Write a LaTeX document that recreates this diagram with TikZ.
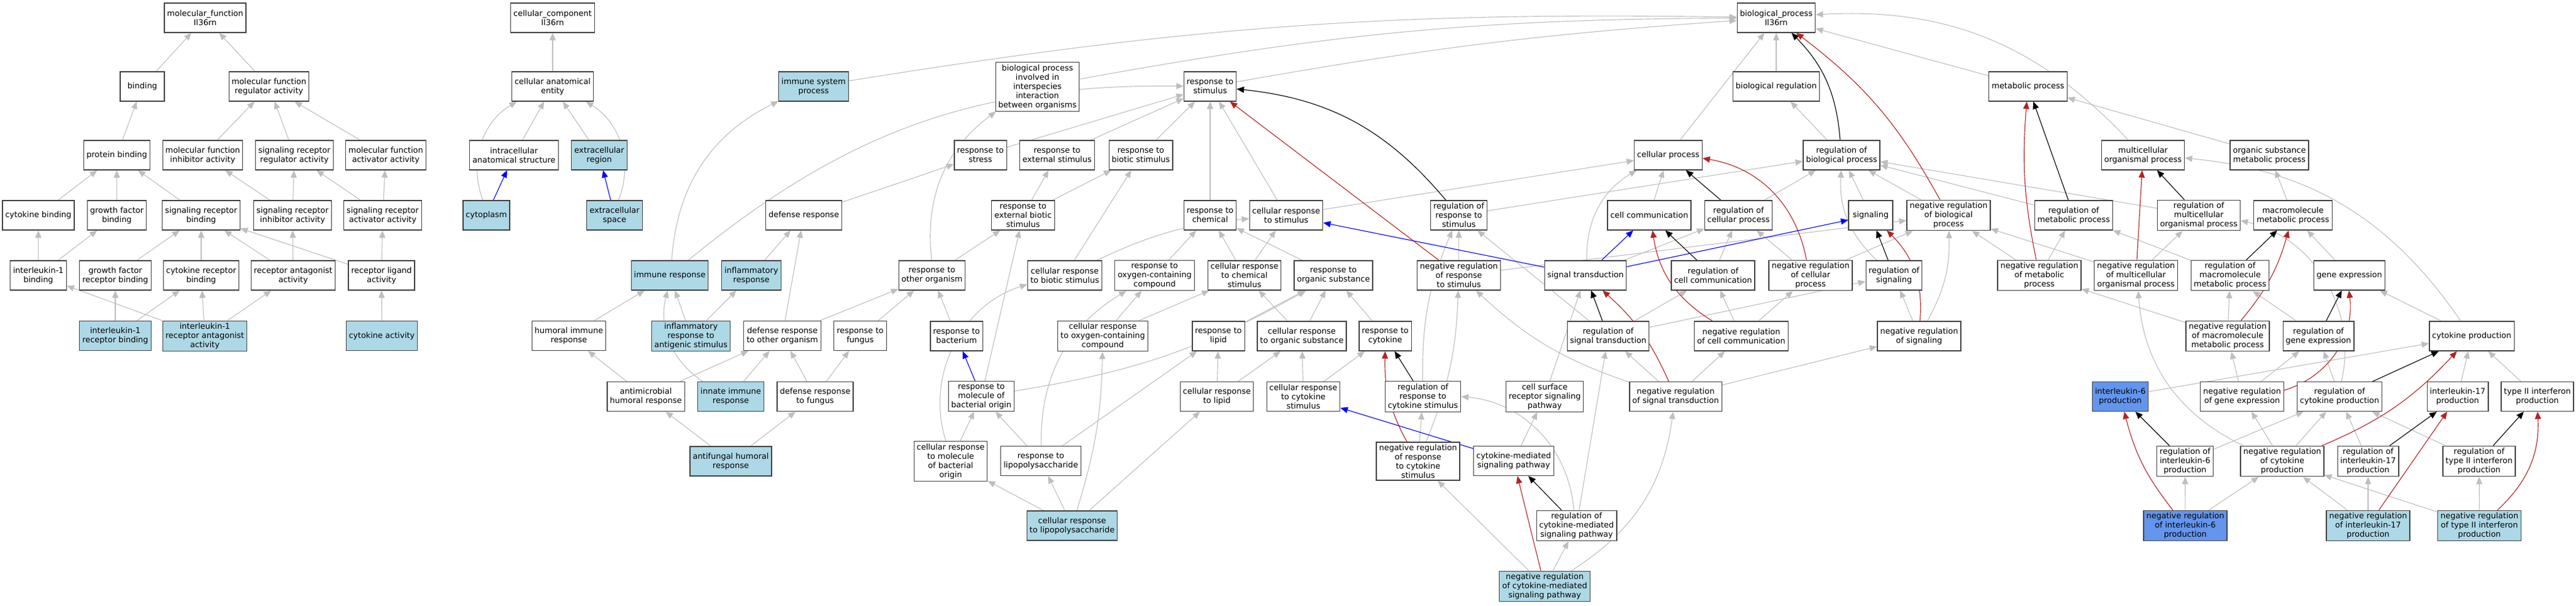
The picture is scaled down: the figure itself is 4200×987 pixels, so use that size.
\documentclass[tikz,border=0pt]{standalone}
\usepackage{fontspec}
\setmainfont{DejaVu Sans}
\usetikzlibrary{arrows.meta}
\definecolor{isagray}{RGB}{190,190,190}
\definecolor{hitblue}{RGB}{173,216,230}
\definecolor{keyblue}{RGB}{100,149,237}
\definecolor{negred}{RGB}{178,34,34}
\pgfdeclarelayer{back}
\pgfsetlayers{back,main}
\begin{document}
\begin{tikzpicture}[x=0.25pt, y=0.25pt,
    term/.style={shape=rectangle, draw=black!75, line width=0.3pt, fill=white, align=center,
                 minimum width=18pt, minimum height=12pt, inner xsep=1.125pt, inner ysep=0.875pt,
                 font=\fontsize{3.25}{3.75}\selectfont},
    hit/.style={term, fill=hitblue},
    key/.style={term, fill=keyblue},
    isa/.style={color=isagray, line width=0.28pt, -{Triangle[length=3pt, width=2.5pt]}},
    reg/.style={isa, color=black},
    neg/.style={isa, color=negred},
    part/.style={isa, color=blue}]
    \useasboundingbox (0,0) rectangle (4200,-987);
    % molecular function
    \node[term] (MF) at (334.5,-29) {molecular\_function\\Il36rn};
    \node[term] (BND) at (232,-141) {binding};
    \node[term] (MFR) at (438.5,-141) {molecular function\\regulator activity};
    \node[term] (PB) at (190.5,-253) {protein binding};
    \node[term] (MFI) at (330.5,-253) {molecular function\\inhibitor activity};
    \node[term] (SRR) at (480,-253) {signaling receptor\\regulator activity};
    \node[term] (MFA) at (629,-253) {molecular function\\activator activity};
    \node[term] (CB) at (62.5,-351) {cytokine binding};
    \node[term] (GFB) at (190.5,-351) {growth factor\\binding};
    \node[term] (SRB) at (328,-351) {signaling receptor\\binding};
    \node[term] (SRI) at (477,-351) {signaling receptor\\inhibitor activity};
    \node[term] (SRA) at (624,-351) {signaling receptor\\activator activity};
    \node[term] (ILB) at (62.5,-449) {interleukin-1\\binding};
    \node[term] (GFRB) at (188,-449) {growth factor\\receptor binding};
    \node[term] (CRB) at (328,-449) {cytokine receptor\\binding};
    \node[term] (RAA) at (478,-449) {receptor antagonist\\activity};
    \node[term] (RLA) at (622,-449) {receptor ligand\\activity};
    \node[hit] (ILRB) at (188,-547.5) {interleukin-1\\receptor binding};
    \node[hit] (ILRA) at (334,-548) {interleukin-1\\receptor antagonist\\activity};
    \node[hit] (CA) at (622.5,-547.5) {cytokine activity};
    % cellular component
    \node[term] (CC) at (901,-29) {cellular\_component\\Il36rn};
    \node[term] (CAE) at (901,-141) {cellular anatomical\\entity};
    \node[term] (IAS) at (838,-253) {intracellular\\anatomical structure};
    \node[hit] (ER) at (977,-253) {extracellular\\region};
    \node[hit] (CYT) at (793,-351) {cytoplasm};
    \node[hit] (ES) at (1002,-351) {extracellular\\space};
    % immune and defense
    \node[hit] (ISP) at (1326.5,-141) {immune system\\process};
    \node[term] (DR) at (1310.5,-351) {defense response};
    \node[hit] (IR) at (1092,-449) {immune response};
    \node[hit] (INF) at (1225,-449) {inflammatory\\response};
    \node[term] (HIR) at (927.5,-547.5) {humoral immune\\response};
    \node[hit] (IRAS) at (1126.5,-548) {inflammatory\\response to\\antigenic stimulus};
    \node[term] (DRO) at (1275.5,-547.5) {defense response\\to other organism};
    \node[term] (RF) at (1402.5,-547.5) {response to\\fungus};
    \node[term] (AHR) at (1053,-646.5) {antimicrobial\\humoral response};
    \node[hit] (IIR) at (1191.5,-646.5) {innate immune\\response};
    \node[term] (DRF) at (1329,-646.5) {defense response\\to fungus};
    \node[hit] (AFH) at (1191.5,-752) {antifungal humoral\\response};
    % responses
    \node[term] (BPI) at (1691.5,-141.5) {biological process\\involved in\\interspecies\\interaction\\between organisms};
    \node[term] (RS) at (1973,-141) {response to\\stimulus};
    \node[term] (RSTR) at (1598.5,-253) {response to\\stress};
    \node[term] (REX) at (1723.5,-253) {response to\\external stimulus};
    \node[term] (RBI) at (1860,-253) {response to\\biotic stimulus};
    \node[term] (REB) at (1668,-351) {response to\\external biotic\\stimulus};
    \node[term] (RCH) at (1973,-351) {response to\\chemical};
    \node[term] (CRS) at (2097,-351) {cellular response\\to stimulus};
    \node[term] (RO) at (1519.5,-449) {response to\\other organism};
    \node[term] (CRBS) at (1736,-449) {cellular response\\to biotic stimulus};
    \node[term] (ROC) at (1882.5,-449) {response to\\oxygen-containing\\compound};
    \node[term] (CRC) at (2029,-449) {cellular response\\to chemical\\stimulus};
    \node[term] (RB) at (1559.5,-548) {response to\\bacterium};
    \node[term] (CROC) at (1798,-548) {cellular response\\to oxygen-containing\\compound};
    \node[term] (RL) at (1986.5,-548) {response to\\lipid};
    \node[term] (CROS) at (2122.5,-548) {cellular response\\to organic substance};
    \node[term] (RMB) at (1600,-646) {response to\\molecule of\\bacterial origin};
    \node[term] (CRL) at (1984,-646.5) {cellular response\\to lipid};
    \node[term] (CRCS) at (2125,-646.5) {cellular response\\to cytokine\\stimulus};
    \node[term] (CRMB) at (1550,-752) {cellular response\\to molecule\\of bacterial\\origin};
    \node[term] (RLPS) at (1697,-751.5) {response to\\lipopolysaccharide};
    \node[hit] (CRLPS) at (1748,-857) {cellular response\\to lipopolysaccharide};
    % signaling and regulation
    \node[term] (CP) at (2720,-253) {cellular process};
    \node[term] (RRS) at (2378.5,-351) {regulation of\\response to\\stimulus};
    \node[term] (CCOM) at (2689,-351) {cell communication};
    \node[term] (RCP) at (2834.5,-351) {regulation of\\cellular process};
    \node[term] (ROS) at (2174,-449) {response to\\organic substance};
    \node[term] (NRRS) at (2378.5,-449) {negative regulation\\of response\\to stimulus};
    \node[term] (ST) at (2585,-449) {signal transduction};
    \node[term] (RCC) at (2793,-449) {regulation of\\cell communication};
    \node[term] (RC) at (2258.5,-548) {response to\\cytokine};
    \node[term] (RSTD) at (2622,-548) {regulation of\\signal transduction};
    \node[term] (NRCC) at (2839,-548) {negative regulation\\of cell communication};
    \node[term] (RRC) at (2320,-646.5) {regulation of\\response to\\cytokine stimulus};
    \node[term] (CSR) at (2518.5,-646.5) {cell surface\\receptor signaling\\pathway};
    \node[term] (NRST) at (2732,-646.5) {negative regulation\\of signal transduction};
    \node[term] (NRRC) at (2312,-752) {negative regulation\\of response\\to cytokine\\stimulus};
    \node[term] (CMS) at (2468,-751.5) {cytokine-mediated\\signaling pathway};
    \node[term] (RCMS) at (2570.5,-857) {regulation of\\cytokine-mediated\\signaling pathway};
    \node[hit] (NRCMS) at (2518.5,-956) {negative regulation\\of cytokine-mediated\\signaling pathway};
    % biological process root side
    \node[term] (BP) at (2896,-29) {biological\_process\\Il36rn};
    \node[term] (BR) at (2896,-141) {biological regulation};
    \node[term] (MP) at (3306.5,-141) {metabolic process};
    \node[term] (RBP) at (3002.5,-253) {regulation of\\biological process};
    \node[term] (MOP) at (3494,-253) {multicellular\\organismal process};
    \node[term] (SIG) at (3050,-351) {signaling};
    \node[term] (NRBP) at (3177,-351) {negative regulation\\of biological\\process};
    \node[term] (RMP) at (3381,-351) {regulation of\\metabolic process};
    \node[term] (NRCP) at (2952,-449) {negative regulation\\of cellular\\process};
    \node[term] (RSIG) at (3088,-449) {regulation of\\signaling};
    \node[term] (NRMP) at (3325,-449) {negative regulation\\of metabolic\\process};
    \node[term] (NRMO) at (3482.5,-449) {negative regulation\\of multicellular\\organismal process};
    \node[term] (NRSIG) at (3129,-548) {negative regulation\\of signaling};
    \node[key] (IL6) at (3457,-646.5) {interleukin-6\\production};
    % metabolism and cytokines
    \node[term] (OSMP) at (3700,-253) {organic substance\\metabolic process};
    \node[term] (RMO) at (3585,-351) {regulation of\\multicellular\\organismal process};
    \node[term] (MMP) at (3738.5,-351) {macromolecule\\metabolic process};
    \node[term] (RMMP) at (3636,-449) {regulation of\\macromolecule\\metabolic process};
    \node[term] (GE) at (3830.5,-449) {gene expression};
    \node[term] (NRMM) at (3632,-548) {negative regulation\\of macromolecule\\metabolic process};
    \node[term] (RGE) at (3780,-548) {regulation of\\gene expression};
    \node[term] (CYP) at (4030,-548) {cytokine production};
    \node[term] (NRGE) at (3655.5,-646.5) {negative regulation\\of gene expression};
    \node[term] (RCYP) at (3814.5,-646.5) {regulation of\\cytokine production};
    \node[term] (IL17) at (4007,-646.5) {interleukin-17\\production};
    \node[term] (IFN) at (4137,-646.5) {type II interferon\\production};
    \node[term] (RIL6) at (3562.5,-752) {regulation of\\interleukin-6\\production};
    \node[term] (NRCYP) at (3721,-752) {negative regulation\\of cytokine\\production};
    \node[term] (RIL17) at (3861,-752) {regulation of\\interleukin-17\\production};
    \node[term] (RIFN) at (4042,-752) {regulation of\\type II interferon\\production};
    \node[key] (NRIL6) at (3563,-857) {negative regulation\\of interleukin-6\\production};
    \node[hit] (NRIL17) at (3861,-857) {negative regulation\\of interleukin-17\\production};
    \node[hit] (NRIFN) at (4042.5,-857) {negative regulation\\of type II interferon\\production};

    \begin{pgfonlayer}{back}
    % is_a
    \path[isa] (BND) edge (MF) (MFR) edge (MF) (PB) edge (BND) (MFI) edge (MFR) (SRR) edge (MFR) (MFA) edge (MFR)
        (CB) edge (PB) (GFB) edge (PB) (SRB) edge (PB) (SRI) edge (MFI) (SRI) edge (SRR) (SRA) edge (SRR) (SRA) edge (MFA)
        (ILB) edge (CB) (ILB) edge (GFB) (GFRB) edge (SRB) (CRB) edge (SRB) (RAA) edge (SRB) (RLA) edge (SRB)
        (RAA) edge (SRI) (RLA) edge (SRA)
        (ILRB) edge (GFRB) (ILRB) edge (CRB) (ILRA) edge (ILB) (ILRA) edge (CRB) (ILRA) edge (RAA) (CA) edge (RLA);
    \path[isa] (CAE) edge (CC) (IAS) edge (CAE) (ER) edge (CAE) (CYT) edge[bend left=40] (CAE) (ES) edge[bend right=40] (CAE);
    \path[isa] (IR) edge[bend left=30] (ISP) (IR) edge[bend left=20] (RS) (ISP) edge[bend left=5] (BP)
        (DR) edge (RSTR) (INF) edge (DR) (DRO) edge (DR) (HIR) edge (IR) (IIR) edge[bend left=35] (IR)
        (IRAS) edge (IR) (IRAS) edge (INF)
        (AHR) edge (HIR) (AHR) edge (DRO) (IIR) edge (DRO) (DRF) edge (DRO) (DRF) edge (RF) (AFH) edge (AHR) (AFH) edge (DRF)
        (DRO) edge (RO) (RF) edge (RO) (RB) edge (RO);
    \path[isa] (RS) edge[bend left=3] (BP) (BPI) edge[bend left=5] (BP) (RO) edge[bend left=30] (BPI)
        (RSTR) edge (RS) (REX) edge (RS) (RBI) edge (RS) (RCH) edge (RS) (CRS) edge (RS)
        (REB) edge (REX) (REB) edge (RBI) (RO) edge (REB) (CRBS) edge (RBI) (CRBS) edge[bend left=10] (CRS) (RMB) edge (REB)
        (ROC) edge (RCH) (CRC) edge (RCH) (CRC) edge (CRS) (ROS) edge (RCH) (CRS) edge (CP)
        (CRMB) edge[bend left=45] (CRBS) (CRMB) edge (RMB) (RLPS) edge (RMB) (RLPS) edge[bend left=30] (ROC) (RLPS) edge (RL)
        (CRLPS) edge (CRMB) (CRLPS) edge (RLPS) (CRLPS) edge[bend right=8] (CROC) (CRLPS) edge (CRL)
        (CROC) edge (ROC) (CROC) edge (CRC) (CRL) edge (RL) (CRL) edge (CROS) (RL) edge (ROS)
        (CROS) edge (CRC) (CROS) edge (ROS) (RC) edge (ROS) (RMB) edge[bend right=10] (ROS) (CRCS) edge (CROS) (CRCS) edge (RC);
    \path[isa] (CP) edge (BP) (BR) edge (BP) (RBP) edge (BR) (MP) edge (BP) (MOP) edge[bend right=25] (BP)
        (RRS) edge (RBP) (NRRS) edge (RRS) (NRRS) edge (NRBP) (ST) edge[bend left=30] (CP) (ST) edge (RCP) (CCOM) edge (CP)
        (RSTD) edge (RRS) (RSTD) edge (RCC) (RSTD) edge (RSIG) (RRC) edge[bend left=12] (RRS)
        (NRRC) edge (RRC) (NRRC) edge[bend right=10] (NRRS)
        (NRST) edge (RSTD) (NRST) edge[bend left=12] (NRRS) (NRST) edge (NRCC) (NRST) edge (NRSIG) (CSR) edge (ST)
        (RCMS) edge[bend right=40] (RRC) (RCMS) edge (RSTD) (CMS) edge (CSR)
        (NRCMS) edge (NRRC) (NRCMS) edge (RCMS) (NRCMS) edge[bend right=25] (NRST)
        (RCC) edge (RCP) (NRCC) edge (RCC) (NRCC) edge (NRCP) (NRCP) edge (RCP) (NRCP) edge (NRBP) (RCP) edge (RBP)
        (RSIG) edge[bend left=25] (RBP) (SIG) edge (RBP) (NRSIG) edge (RSIG) (NRSIG) edge[bend right=15] (NRBP) (NRBP) edge (RBP)
        (RMP) edge (RBP) (RMO) edge (RBP) (NRMP) edge (NRBP) (NRMO) edge (NRBP) (NRMP) edge (RMP) (RMMP) edge (RMP) (NRMM) edge (NRMP)
        (NRCYP) edge[bend left=30] (NRMO) (NRMO) edge (RMO) (RCYP) edge[bend right=45] (RMO) (OSMP) edge (MP) (MMP) edge (OSMP)
        (GE) edge (MMP) (NRMM) edge (RMMP) (RGE) edge (RMMP) (CYP) edge (GE) (CYP) edge[bend right=25] (MOP)
        (NRGE) edge (NRMM) (NRGE) edge (RGE) (RCYP) edge (RGE) (IL6) edge (CYP) (IL17) edge (CYP) (IFN) edge (CYP)
        (RIL6) edge (RCYP) (NRCYP) edge (NRGE) (NRCYP) edge (RCYP) (RIL17) edge (RCYP) (RIFN) edge (RCYP)
        (NRIL6) edge (RIL6) (NRIL6) edge (NRCYP) (NRIL17) edge (NRCYP) (NRIL17) edge (RIL17) (NRIFN) edge (NRCYP) (NRIFN) edge (RIFN);
    % regulates
    \path[reg] (RRS) edge[bend right=22] (RS) (RCP) edge (CP) (RCC) edge (CCOM) (RSTD) edge (ST) (RRC) edge (RC) (RCMS) edge (CMS)
        (RBP) edge[bend right=20] (BP) (RMP) edge (MP) (RSIG) edge (SIG) (RMO) edge (MOP) (RMMP) edge (MMP) (RGE) edge (GE)
        (RCYP) edge (CYP) (RIL6) edge (IL6) (RIL17) edge (IL17) (RIFN) edge (IFN);
    % negatively regulates
    \path[neg] (NRRS) edge (RS) (NRCP) edge[bend right=35] (CP) (NRCC) edge[bend left=25] (CCOM) (NRST) edge[bend right=12] (ST)
        (NRRC) edge[bend left=15] (RC) (NRCMS) edge (CMS) (NRBP) edge[bend right=12] (BP) (NRMP) edge[bend left=8] (MP)
        (NRSIG) edge[bend right=25] (SIG) (NRMO) edge (MOP) (NRMM) edge[bend right=12] (MMP) (NRGE) edge[bend right=40] (GE)
        (NRCYP) edge[bend right=12] (CYP) (NRIL6) edge[bend left=12] (IL6) (NRIL17) edge (IL17) (NRIFN) edge[bend right=25] (IFN);
    % part_of
    \path[part] (CYT) edge (IAS) (ES) edge (ER) (RMB) edge (RB) (ST) edge (CRS) (ST) edge (CCOM) (ST) edge (SIG) (CMS) edge (CRCS);
    \end{pgfonlayer}
\end{tikzpicture}
\end{document}
